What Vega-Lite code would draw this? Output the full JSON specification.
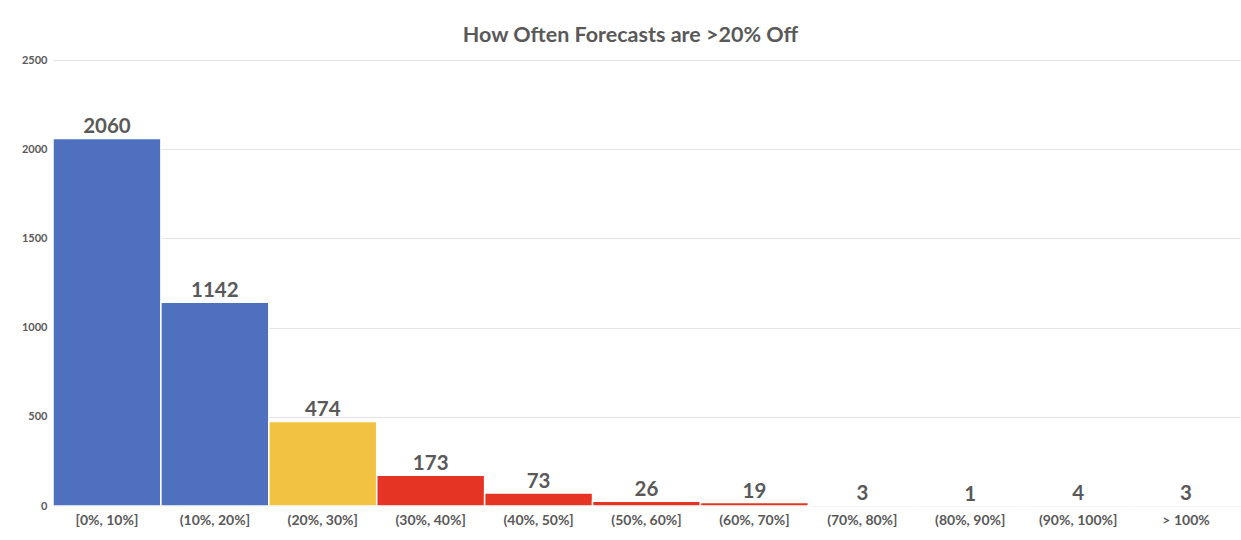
{
  "$schema": "https://vega.github.io/schema/vega-lite/v6.json",
  "autosize": "none",
  "width": 1187,
  "height": 446,
  "padding": {"left": 53, "top": 60, "right": 1, "bottom": 34},
  "background": "white",
  "config": {
    "font": "Lato",
    "view": {"stroke": null}
  },
  "title": {
    "text": "How Often Forecasts are >20% Off",
    "fontSize": 21.5,
    "fontWeight": "bold",
    "color": "#595959",
    "font": "Lato",
    "anchor": "middle",
    "dx": -16,
    "offset": 8
  },
  "data": {
    "values": [
      {"bucket": "[0%, 10%]", "count": 2060, "tier": "within"},
      {"bucket": "(10%, 20%]", "count": 1142, "tier": "within"},
      {"bucket": "(20%, 30%]", "count": 474, "tier": "moderate"},
      {"bucket": "(30%, 40%]", "count": 173, "tier": "severe"},
      {"bucket": "(40%, 50%]", "count": 73, "tier": "severe"},
      {"bucket": "(50%, 60%]", "count": 26, "tier": "severe"},
      {"bucket": "(60%, 70%]", "count": 19, "tier": "severe"},
      {"bucket": "(70%, 80%]", "count": 3, "tier": "severe"},
      {"bucket": "(80%, 90%]", "count": 1, "tier": "severe"},
      {"bucket": "(90%, 100%]", "count": 4, "tier": "severe"},
      {"bucket": "> 100%", "count": 3, "tier": "severe"}
    ]
  },
  "encoding": {
    "x": {
      "field": "bucket",
      "type": "nominal",
      "sort": null,
      "scale": {"paddingInner": 0, "paddingOuter": 0},
      "axis": {
        "title": null,
        "labelAngle": 0,
        "labelFont": "Lato",
        "labelFontSize": 14,
        "labelFontWeight": "bold",
        "labelColor": "#595959",
        "labelPadding": 7,
        "ticks": false,
        "domainColor": "#d9d9d9"
      }
    },
    "y": {
      "field": "count",
      "type": "quantitative",
      "scale": {"domain": [0, 2500]},
      "axis": {
        "title": null,
        "format": "d",
        "values": [0, 500, 1000, 1500, 2000, 2500],
        "labelFont": "Lato",
        "labelFontSize": 11,
        "labelFontWeight": "bold",
        "labelColor": "#595959",
        "labelPadding": 6,
        "ticks": false,
        "domain": false,
        "gridColor": "#e4e4e4",
        "gridWidth": 1
      }
    }
  },
  "layer": [
    {
      "mark": {"type": "bar", "stroke": "white", "strokeWidth": 1.5},
      "encoding": {
        "color": {
          "field": "tier",
          "type": "nominal",
          "scale": {
            "domain": ["within", "moderate", "severe"],
            "range": ["#4E70BE", "#F2C343", "#E53423"]
          },
          "legend": null
        }
      }
    },
    {
      "mark": {
        "type": "text",
        "baseline": "bottom",
        "dy": -1,
        "fontSize": 20.5,
        "fontWeight": "bold",
        "font": "Lato",
        "color": "#595959"
      },
      "encoding": {
        "text": {"field": "count", "type": "quantitative"}
      }
    }
  ]
}
